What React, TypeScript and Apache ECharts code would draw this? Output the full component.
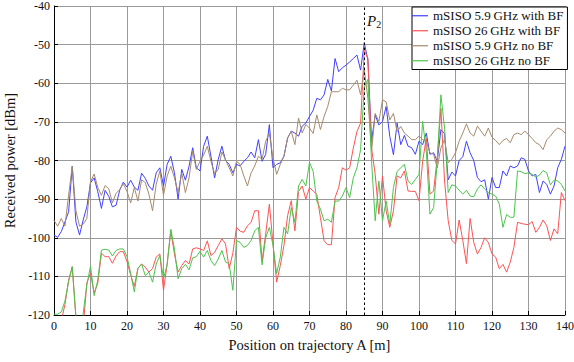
import React, { useEffect, useRef } from "react";
import * as echarts from "echarts";

// Sample positions along the trajectory [m]
const positions: number[] = Array.from({ length: 141 }, (_, i) => i);

const blueWithBF = [
  -99.3, -99.9, -98.4, -95.9, -93.3, -81.5, -95.9, -99.3, -95.4, -92,
  -85.8, -84.5, -88.1, -92.4, -87.7, -89.3, -92, -91.6, -87.7, -85.6,
  -86.9, -85.1, -86.9, -87.7, -83.3, -84.6, -86.6, -87.7, -83.2, -81.9,
  -86.6, -81, -78.9, -83.2, -90, -82.3, -85.1, -81.5, -76.7, -81.9,
  -82.7, -76.3, -73.7, -78.9, -84.5, -79.7, -76.3, -80, -81, -83.2,
  -81, -81.4, -80.2, -79.3, -77.8, -79.3, -74.6, -80.2, -78.4, -70.7,
  -81.9, -81, -80.6, -78.9, -74.2, -72.4, -72.9, -73.7, -71.1, -70.3,
  -68.6, -67, -63.9, -64.3, -63, -59, -62, -53.6, -57, -56,
  -55.3, -54.5, -53.6, -52.7, -56.6, -49.5, -54, -75, -68.2, -70.8,
  -69.9, -66, -73.8, -78.5, -70.3, -75.9, -73.5, -76.3, -76.7, -78.4,
  -75, -75.9, -72.9, -78.4, -78, -80.2, -72, -73, -85, -83,
  -84, -80, -79, -75, -78, -80, -84.4, -85.5, -85, -90,
  -84.4, -87, -87, -82.7, -84, -81.4, -81.9, -81.4, -79.3, -79.7,
  -82.7, -84, -83.6, -88.3, -85.3, -86.2, -88.7, -86.6, -81.9, -79.7, -76.3,
];

const red26WithBF = [
  -124, -123, -121.5, -117.3, -111, -107.5, -120.7, -127, -123, -111.7,
  -109.2, -114.3, -111.7, -104, -104.9, -104.9, -106.6, -104.7, -103.6, -103.6,
  -106.2, -109.6, -112.6, -107.9, -106.8, -107.6, -108.9, -108, -105, -104.2,
  -113.6, -106.8, -98.2, -104.2, -108.9, -107.2, -105.9, -106.8, -102.9, -102.6,
  -102.9, -103.3, -100.8, -104.6, -103.8, -102, -100.3, -101.6, -108, -104,
  -97.3, -98.3, -98.6, -96.9, -96, -93, -93, -106, -99, -91.3,
  -101.6, -111.5, -107.2, -102, -94.3, -90.4, -98.2, -88, -86.6, -90,
  -87, -87.9, -88.8, -94.8, -100.8, -101.8, -101.8, -89.6, -87, -81.9,
  -82.5, -81.9, -76.8, -72.5, -70.3, -51.5, -53.5, -76.8, -83.6, -93.9,
  -84, -93, -97.3, -93, -84, -84.5, -82.7, -87.9, -88, -88,
  -90.4, -80.2, -74.2, -88.7, -87.9, -79.3, -66.5, -85.3, -95.6, -100.7,
  -101.6, -95.4, -100.7, -106.7, -95, -101.2, -104.2, -102.5, -100, -101.2,
  -104.2, -105, -108, -106.9, -108.9, -106.3, -102.5, -96, -96.3, -96.5,
  -96.6, -95.8, -98.6, -97.3, -95.4, -96.9, -100.7, -97.7, -99, -88.3, -90.4,
];

const tan59NoBF = [
  -95.5, -97, -95, -97, -89, -81.5, -93, -97, -96.5, -95,
  -85.5, -83.5, -87, -89, -86.5, -87.3, -91, -88.5, -87.5, -86,
  -88, -91, -87, -90.5, -85, -85.7, -88.7, -93, -86.2, -82.7,
  -89, -84, -81.5, -84.5, -88.3, -83.2, -88.3, -84.5, -77.6, -82.3,
  -80.2, -78.6, -76.3, -80.2, -83.4, -82.3, -77.8, -79.8, -81.9, -84,
  -80.2, -81, -84, -86.6, -83.2, -81.4, -78.9, -79.7, -75, -73,
  -79.3, -83.6, -81, -78.9, -74.2, -72.4, -75.9, -69, -72.9, -70.7,
  -71.6, -73, -68.2, -72, -68.6, -66, -62.2, -62.2, -62.2, -61.3,
  -61.7, -61.7, -60.5, -59.2, -63, -56.5, -63.9, -77.6, -67.8, -69.9,
  -64.3, -64.8, -69.5, -67.8, -72.5, -71.2, -72.9, -73.7, -74.6, -74.6,
  -73.7, -74.6, -75, -78, -78.4, -81.9, -76.7, -74.6, -80.6, -79.7,
  -78, -75, -72.9, -70.5, -72.9, -73.7, -71.1, -72.4, -73.7, -71.6,
  -74, -74.8, -75.9, -74.8, -74.3, -75.4, -73.3, -72.9, -73.3, -72.4,
  -73.3, -74.3, -75.4, -75.9, -77.2, -74.6, -73.7, -72.4, -71.6, -72, -72.9,
];

const green26NoBF = [
  -119.8, -119.8, -119.2, -116.4, -111.3, -107.5, -120.3, -127, -119.5, -112.2,
  -107.4, -115, -111, -103.2, -103, -103.2, -104.7, -103.3, -102.9, -102.9,
  -104.9, -109.2, -114, -107.9, -106.8, -109.8, -108.9, -111.5, -106.8, -104.6,
  -110.5, -107, -97.8, -102.9, -110.6, -108, -106.9, -108.3, -105.2, -104.9,
  -103.5, -105, -103.3, -105.9, -107.2, -105.5, -103.3, -106.3, -106.7, -113.6,
  -100.7, -101.2, -102.5, -102, -100.7, -98.2, -97.3, -107, -100, -97.3,
  -102, -109.3, -105, -97.3, -99, -92.2, -96, -86.6, -84.9, -86.6,
  -80.5, -82.8, -90.5, -92.6, -95.6, -95.2, -96, -90.5, -90.5, -89.2,
  -87, -89.6, -84.5, -81.9, -77.2, -61, -59, -80.2, -95.6, -85.3,
  -95.6, -90.5, -96.5, -87, -82.8, -81.9, -81, -85.3, -86.2, -84.9,
  -83.6, -69.9, -77.6, -93.9, -92.2, -80.2, -63, -71.6, -88.3, -86.3,
  -86.6, -87.7, -88.7, -87.7, -89.2, -89.4, -87.4, -86.3, -87.4, -88.3,
  -88.7, -89.2, -91.3, -97.3, -94, -94.7, -94.7, -82.7, -82.9, -83.4,
  -83.2, -83.6, -84.3, -83.8, -82.6, -83.2, -86.3, -85.1, -85.3, -86.2, -87.9,
];

const seriesNames = [
  "mSISO 5.9\u2009GHz with BF",
  "mSISO 26\u2009GHz with BF",
  "mSISO 5.9\u2009GHz no BF",
  "mSISO 26\u2009GHz no BF",
];
const seriesValues = [blueWithBF, red26WithBF, tan59NoBF, green26NoBF];
const seriesColors = ["#4040ff", "#ff5252", "#a68a6c", "#4cc44c"];

const markerPosition = 85;

const FONT = "Liberation Serif";

export default function App() {
  const ref = useRef<HTMLDivElement>(null);
  useEffect(() => {
    if (!ref.current) return;
    const chart = echarts.init(ref.current, undefined, { renderer: "svg" });
    const series: any[] = seriesValues.map((vals, k) => ({
      name: seriesNames[k],
      type: "line",
      symbol: "none",
      showSymbol: false,
      clip: true,
      data: positions.map((x, i) => [x, vals[i]]),
      lineStyle: { color: seriesColors[k], width: 1 },
      itemStyle: { color: seriesColors[k] },
      z: 2 + k,
    }));
    series[0].markLine = {
      silent: true,
      symbol: "none",
      animation: false,
      label: { show: false },
      lineStyle: { color: "#000", type: [2.5, 2.5], width: 1 },
      data: [{ xAxis: markerPosition }],
      z: 10,
    };
    chart.setOption({
      animation: false,
      textStyle: { fontFamily: FONT },
      grid: {
        left: 54,
        right: 9,
        top: 6,
        bottom: 47,
        containLabel: false,
        outerBoundsMode: "none",
      },
      legend: {
        orient: "vertical",
        left: 412,
        top: 7,
        padding: [2, 4, 2, 0],
        itemGap: 1.5,
        itemWidth: 16,
        itemHeight: 1.2,
        itemTextGap: 1,
        icon: "rect",
        backgroundColor: "#fff",
        borderColor: "#000",
        borderWidth: 1,
        borderRadius: 0,
        textStyle: { fontFamily: FONT, fontSize: 13, color: "#111", lineHeight: 13.5 },
        data: seriesNames,
        z: 20,
      },
      xAxis: {
        type: "value",
        min: 0,
        max: 140,
        interval: 10,
        name: "Position on trajectory A [m]",
        nameLocation: "middle",
        nameGap: 22,
        nameTextStyle: { fontFamily: FONT, fontSize: 14.5, color: "#111" },
        axisLine: { show: true, onZero: false, lineStyle: { color: "#000", width: 1 } },
        axisTick: { show: true, inside: true, length: 4, lineStyle: { color: "#000" } },
        axisLabel: { fontFamily: FONT, fontSize: 12, color: "#111", margin: 5 },
        splitLine: { show: true, lineStyle: { color: "#9a9a9a", width: 1 } },
      },
      yAxis: {
        type: "value",
        min: -120,
        max: -40,
        interval: 10,
        name: "Received power [dBm]",
        nameLocation: "middle",
        nameGap: 33,
        nameTextStyle: { fontFamily: FONT, fontSize: 14.5, color: "#111" },
        axisLine: { show: true, onZero: false, lineStyle: { color: "#000", width: 1 } },
        axisTick: { show: true, inside: true, length: 4, lineStyle: { color: "#000" } },
        axisLabel: { fontFamily: FONT, fontSize: 12, color: "#111", margin: 4 },
        splitLine: { show: true, lineStyle: { color: "#9a9a9a", width: 1 } },
      },
      graphic: [
        {
          type: "text",
          left: 367,
          top: 13,
          z: 30,
          style: {
            text: "{p|P}{s|2}",
            rich: {
              p: { fontFamily: FONT, fontStyle: "italic", fontSize: 15, fill: "#111" },
              s: { fontFamily: FONT, fontSize: 10, fill: "#111", padding: [7, 0, 0, 0] },
            },
          },
        },
      ],
      series,
    });
    return () => chart.dispose();
  }, []);
  return (
    <div
      ref={ref}
      style={{ position: "fixed", left: 0, top: 0, width: 574, height: 362, background: "#fff" }}
    />
  );
}
